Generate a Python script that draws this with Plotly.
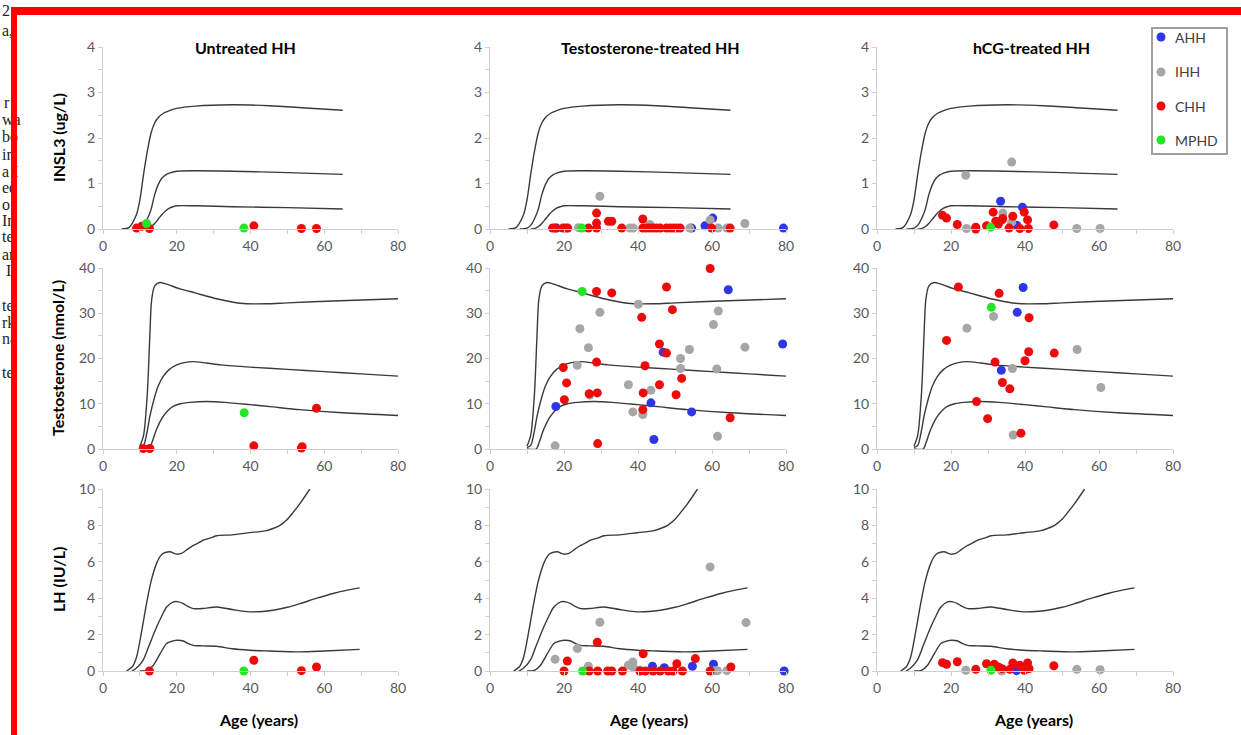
import plotly.graph_objects as go

W, H = 1241, 735

# ---------------- text / categories ----------------
PANEL_TITLES = ["Untreated HH", "Testosterone-treated HH", "hCG-treated HH"]
ROW_TITLES = ["INSL3 (ug/L)", "Testosterone (nmol/L)", "LH (IU/L)"]
X_TITLE = "Age (years)"
GROUPS = ["AHH", "IHH", "CHH", "MPHD"]
GROUP_COLORS = ["#2f36e6", "#a6a6a6", "#ee0a0a", "#22e622"]
AGE_TICKS = [0, 20, 40, 60, 80]
INSL3_TICKS = [0, 1, 2, 3, 4]
T_TICKS = [0, 10, 20, 30, 40]
LH_TICKS = [0, 2, 4, 6, 8, 10]

# ---------------- reference centile curves (age, value) ----------------
INSL3_AGE_HI = [5, 7, 9, 10, 11, 12, 13, 14, 15, 16.5, 18, 20, 25, 35, 45, 55, 65]
INSL3_HI = [0, 0.03, 0.3, 0.64, 1.2, 1.7, 2.1, 2.33, 2.45, 2.55, 2.6, 2.65, 2.7, 2.73, 2.71, 2.66, 2.61]
INSL3_AGE_MID = [8, 10, 11, 12, 13, 14, 15, 16, 17, 18, 20, 25, 35, 50, 65]
INSL3_MID = [0, 0.02, 0.08, 0.22, 0.42, 0.75, 0.98, 1.12, 1.19, 1.23, 1.27, 1.28, 1.27, 1.24, 1.2]
INSL3_AGE_LO = [11, 12, 13, 14, 15, 16, 17, 18, 19, 20, 25, 35, 50, 65]
INSL3_LO = [0, 0.01, 0.05, 0.12, 0.22, 0.32, 0.4, 0.46, 0.49, 0.51, 0.51, 0.49, 0.47, 0.44]

T_AGE_HI = [10, 11, 12, 12.7, 13.2, 14, 15.4, 17, 20.9, 25, 30.8, 35, 38.9, 44.3, 50, 62.4, 80]
T_HI = [0.6, 3, 12, 25, 33, 36, 36.8, 36.5, 35.4, 34.5, 33.2, 32.5, 32.1, 32.1, 32.3, 32.7, 33.2]
T_AGE_MID = [10, 11, 12, 12.7, 14, 15, 16.3, 18, 20, 22, 24.5, 28, 32, 39.8, 50, 60, 70, 80]
T_MID = [0.3, 0.8, 4.0, 7.2, 11.5, 14, 16, 17.6, 18.6, 19.1, 19.3, 19.0, 18.6, 18.1, 17.6, 17.1, 16.6, 16.1]
T_AGE_LO = [10, 12.5, 13.3, 14.5, 16, 17.5, 19, 21, 23.6, 28, 33, 39.8, 46, 53.4, 65, 80]
T_LO = [0, 0, 1.5, 4.3, 6.8, 8.4, 9.4, 10.0, 10.3, 10.5, 10.3, 9.8, 9.3, 8.7, 8.0, 7.4]

LH_AGE_HI = [6.4, 8, 9.1, 10.5, 11.8, 13, 14.5, 15.5, 16.3, 18.1, 20, 21.3, 23, 24.5, 26, 27.2, 29,
             30.8, 35, 39.8, 44, 46.1, 48, 49.8, 51.5, 53.4, 56.1]
LH_HI = [0, 0.25, 0.77, 2.2, 3.7, 4.9, 5.9, 6.3, 6.46, 6.55, 6.42, 6.46, 6.7, 6.9, 7.05, 7.19, 7.3,
         7.43, 7.48, 7.6, 7.7, 7.83, 8.0, 8.29, 8.7, 9.2, 10]
LH_AGE_MID = [7.8, 9, 10.9, 12.5, 14.5, 16, 17.2, 19.1, 20.5, 21.8, 23, 24.5, 27, 30.8, 35, 39.8,
              46.1, 50, 53.4, 58, 62.4, 66, 69.6]
LH_MID = [0, 0.15, 0.6, 1.4, 2.4, 3.05, 3.5, 3.8, 3.8, 3.7, 3.55, 3.43, 3.43, 3.52, 3.38, 3.25,
          3.34, 3.5, 3.7, 4.0, 4.26, 4.43, 4.57]
LH_AGE_LO = [10, 12, 13.6, 15.5, 17.2, 18.5, 20, 21.8, 23, 24.5, 27, 30.8, 35, 39.8, 45, 53.4, 60, 69.6]
LH_LO = [0, 0.03, 0.3, 0.95, 1.5, 1.62, 1.69, 1.65, 1.52, 1.41, 1.38, 1.36, 1.22, 1.14, 1.1, 1.05, 1.1, 1.19]

# ---------------- patient data (age, value) ----------------
# Untreated HH
UT_INSL3_AHH = []
UT_INSL3_IHH = []
UT_INSL3_CHH = [(9.1, 0.02), (10.5, 0.06), (12.6, 0.01), (40.9, 0.07), (53.8, 0.01), (57.9, 0.01)]
UT_INSL3_MPHD = [(11.8, 0.12), (38.2, 0.02)]
UT_T_AHH = []
UT_T_IHH = []
UT_T_CHH = [(10.9, 0.1), (12.7, 0.1), (40.9, 0.7), (53.8, 0.2), (54.0, 0.5), (57.9, 9.0)]
UT_T_MPHD = [(38.3, 8.0)]
UT_LH_AHH = []
UT_LH_IHH = []
UT_LH_CHH = [(12.6, 0.0), (40.9, 0.59), (53.8, 0.02), (57.9, 0.22)]
UT_LH_MPHD = [(38.2, 0.0)]

# Testosterone-treated HH
TT_INSL3_AHH = [(18.0, 0.02), (54.5, 0.02), (58.1, 0.07), (60.2, 0.24), (79.3, 0.02)]
TT_INSL3_IHH = [(29.7, 0.72), (23.9, 0.03), (37.8, 0.02), (38.7, 0.02), (43.2, 0.1), (54.0, 0.02),
                (59.5, 0.2), (61.7, 0.02), (64.0, 0.02), (68.9, 0.12)]
TT_INSL3_CHH = [(16.9, 0.02), (17.6, 0.02), (19.7, 0.02), (20.4, 0.02), (21.0, 0.02), (26.6, 0.02),
                (28.8, 0.02), (28.8, 0.13), (28.8, 0.35), (32.0, 0.17), (32.9, 0.17), (35.6, 0.02),
                (41.3, 0.22), (41.3, 0.02), (42.2, 0.02), (43.2, 0.02), (44.1, 0.02), (45.0, 0.02),
                (46.0, 0.02), (47.7, 0.02), (48.6, 0.02), (49.5, 0.02), (50.5, 0.02), (51.4, 0.02),
                (59.9, 0.02), (64.9, 0.02)]
TT_INSL3_MPHD = [(24.8, 0.02)]
TT_T_AHH = [(64.4, 35.2), (79.1, 23.2), (46.8, 21.4), (17.8, 9.4), (43.5, 10.2), (54.5, 8.2), (44.3, 2.1)]
TT_T_IHH = [(40.1, 32.0), (29.7, 30.2), (61.7, 30.5), (24.3, 26.6), (60.4, 27.5), (26.6, 22.4),
            (68.9, 22.5), (53.9, 22.0), (51.5, 20.0), (23.6, 18.5), (51.5, 17.8), (61.3, 17.7),
            (37.4, 14.2), (43.5, 13.0), (27.0, 11.9), (38.6, 8.2), (41.3, 7.6), (17.6, 0.7), (61.5, 2.8)]
TT_T_CHH = [(59.5, 39.9), (47.7, 35.8), (28.8, 34.8), (32.9, 34.5), (49.3, 30.8), (41.0, 29.1),
            (45.8, 23.2), (47.7, 21.2), (28.8, 19.2), (19.8, 18.0), (41.9, 18.4), (51.8, 15.6),
            (20.7, 14.6), (45.8, 14.2), (26.8, 12.2), (29.0, 12.4), (41.4, 12.4), (50.3, 12.0),
            (20.1, 10.9), (41.3, 8.7), (64.9, 6.9), (29.1, 1.2)]
TT_T_MPHD = [(24.9, 34.8)]
TT_LH_AHH = [(43.9, 0.26), (47.1, 0.18), (54.7, 0.26), (60.4, 0.37), (79.5, 0.0)]
TT_LH_IHH = [(59.5, 5.72), (29.7, 2.68), (69.2, 2.66), (23.6, 1.23), (17.6, 0.64), (26.6, 0.26),
             (37.4, 0.31), (38.6, 0.5), (38.7, 0.22), (40.5, 0.04), (60.8, 0.02), (61.5, 0.02), (64.0, 0.02)]
TT_LH_CHH = [(29.0, 1.58), (41.4, 0.95), (55.5, 0.68), (20.9, 0.55), (50.5, 0.4), (65.1, 0.22),
             (20.0, 0.0), (26.8, 0.0), (29.1, 0.0), (31.8, 0.0), (32.9, 0.0), (35.8, 0.0), (40.5, 0.0),
             (42.0, 0.0), (44.1, 0.0), (46.0, 0.0), (48.2, 0.0), (49.5, 0.0), (52.0, 0.0), (59.5, 0.0)]
TT_LH_MPHD = [(25.0, 0.0)]

# hCG-treated HH
HC_INSL3_AHH = [(33.4, 0.61), (39.3, 0.48), (37.8, 0.08)]
HC_INSL3_IHH = [(36.4, 1.47), (24.0, 1.18), (34.0, 0.35), (36.4, 0.15), (24.2, 0.01), (54.0, 0.01), (60.3, 0.01)]
HC_INSL3_CHH = [(17.7, 0.3), (18.8, 0.24), (21.7, 0.1), (26.7, 0.04), (26.7, 0.0), (29.6, 0.07),
                (31.4, 0.37), (32.1, 0.17), (32.8, 0.11), (33.8, 0.2), (34.0, 0.23), (35.7, 0.02),
                (36.7, 0.28), (38.6, 0.01), (39.8, 0.37), (40.7, 0.2), (40.9, 0.01), (47.8, 0.09)]
HC_INSL3_MPHD = [(30.7, 0.04)]
HC_T_AHH = [(39.5, 35.7), (37.9, 30.2), (33.6, 17.4)]
HC_T_IHH = [(31.5, 29.3), (24.3, 26.7), (54.1, 22.0), (36.6, 17.8), (60.5, 13.6), (36.8, 3.1)]
HC_T_CHH = [(22.0, 35.8), (33.0, 34.4), (41.1, 29.0), (18.8, 24.0), (41.0, 21.5), (47.9, 21.2),
            (40.0, 19.5), (31.9, 19.2), (33.9, 14.7), (35.9, 13.3), (26.9, 10.5), (29.9, 6.7), (38.9, 3.5)]
HC_T_MPHD = [(30.9, 31.3)]
HC_LH_AHH = [(37.7, 0.02)]
HC_LH_IHH = [(24.0, 0.04), (33.7, 0.0), (54.0, 0.09), (60.3, 0.07)]
HC_LH_CHH = [(17.7, 0.46), (18.8, 0.37), (21.7, 0.51), (26.7, 0.09), (29.6, 0.4), (31.7, 0.37),
             (32.8, 0.22), (33.8, 0.13), (36.7, 0.44), (35.9, 0.09), (38.6, 0.31), (39.8, 0.04),
             (40.7, 0.44), (41.1, 0.13), (47.8, 0.29)]
HC_LH_MPHD = [(30.8, 0.04)]

# ---------------- assemble ----------------
ROWS = [
    dict(curves=[(INSL3_AGE_HI, INSL3_HI), (INSL3_AGE_MID, INSL3_MID), (INSL3_AGE_LO, INSL3_LO)],
         yrange=[0, 4], ticks=INSL3_TICKS, minor=0.5,
         data=[[UT_INSL3_AHH, UT_INSL3_IHH, UT_INSL3_CHH, UT_INSL3_MPHD],
               [TT_INSL3_AHH, TT_INSL3_IHH, TT_INSL3_CHH, TT_INSL3_MPHD],
               [HC_INSL3_AHH, HC_INSL3_IHH, HC_INSL3_CHH, HC_INSL3_MPHD]]),
    dict(curves=[(T_AGE_HI, T_HI), (T_AGE_MID, T_MID), (T_AGE_LO, T_LO)],
         yrange=[0, 40], ticks=T_TICKS, minor=5,
         data=[[UT_T_AHH, UT_T_IHH, UT_T_CHH, UT_T_MPHD],
               [TT_T_AHH, TT_T_IHH, TT_T_CHH, TT_T_MPHD],
               [HC_T_AHH, HC_T_IHH, HC_T_CHH, HC_T_MPHD]]),
    dict(curves=[(LH_AGE_HI, LH_HI), (LH_AGE_MID, LH_MID), (LH_AGE_LO, LH_LO)],
         yrange=[0, 10], ticks=LH_TICKS, minor=1,
         data=[[UT_LH_AHH, UT_LH_IHH, UT_LH_CHH, UT_LH_MPHD],
               [TT_LH_AHH, TT_LH_IHH, TT_LH_CHH, TT_LH_MPHD],
               [HC_LH_AHH, HC_LH_IHH, HC_LH_CHH, HC_LH_MPHD]]),
]

COL_PX = [(103, 398), (490, 786), (877, 1173)]
ROW_PX = [(47, 229), (268, 449), (489, 671)]


def px(x):
    return x / W


def py(y):
    return 1 - y / H


FONT = "Lato, 'Open Sans', sans-serif"
AXIS_COLOR = "#cfcfcf"
TICK_FONT = dict(family=FONT, size=14, color="#595959")

fig = go.Figure()
layout = dict(width=W, height=H, margin=dict(l=0, r=0, t=0, b=0, pad=0, autoexpand=False),
              paper_bgcolor="white", plot_bgcolor="white", showlegend=False, template="none")

for r, row in enumerate(ROWS):
    for c in range(3):
        k = r * 3 + c + 1
        xa = "x" if k == 1 else f"x{k}"
        ya = "y" if k == 1 else f"y{k}"
        xkey = "xaxis" if k == 1 else f"xaxis{k}"
        ykey = "yaxis" if k == 1 else f"yaxis{k}"
        x0, x1 = COL_PX[c]
        yt, yb = ROW_PX[r]
        layout[xkey] = dict(domain=[px(x0), px(x1)], anchor=ya, range=[0, 80], automargin=False,
                            tickvals=AGE_TICKS, showline=True, linecolor=AXIS_COLOR, linewidth=1,
                            ticks="outside", ticklen=4, tickcolor=AXIS_COLOR, showgrid=False,
                            zeroline=False, tickfont=TICK_FONT,
                            minor=dict(dtick=10, ticks="outside", ticklen=4, tickcolor=AXIS_COLOR,
                                       showgrid=False))
        layout[ykey] = dict(domain=[py(yb), py(yt)], anchor=xa, range=row["yrange"], automargin=False,
                            tickvals=row["ticks"], showline=True, linecolor=AXIS_COLOR, linewidth=1,
                            ticks="outside", ticklen=4, tickcolor=AXIS_COLOR, showgrid=False,
                            zeroline=False, tickfont=TICK_FONT,
                            minor=dict(dtick=row["minor"], ticks="outside", ticklen=4,
                                       tickcolor=AXIS_COLOR, showgrid=False))
        for ages, vals in row["curves"]:
            fig.add_trace(go.Scatter(x=ages, y=vals, mode="lines", xaxis=xa, yaxis=ya,
                                     line=dict(color="#3a3a3a", width=1.4, shape="spline",
                                               smoothing=0.8),
                                     hoverinfo="skip", cliponaxis=False))
        for g, pts in enumerate(row["data"][c]):
            if not pts:
                continue
            fig.add_trace(go.Scatter(x=[p[0] for p in pts], y=[p[1] for p in pts], mode="markers",
                                     xaxis=xa, yaxis=ya, name=GROUPS[g], cliponaxis=False,
                                     marker=dict(color=GROUP_COLORS[g], size=9, line=dict(width=0))))

annotations = []
shapes = []
TITLE_X = [246, 650, 1031]
for c, t in enumerate(PANEL_TITLES):
    annotations.append(dict(text=f"<b>{t}</b>", x=px(TITLE_X[c]), y=py(47), xref="paper", yref="paper",
                            showarrow=False, xanchor="center", yanchor="middle",
                            font=dict(family=FONT, size=16, color="black")))
ROW_TITLE_Y = [138, 358, 580]
for r, t in enumerate(ROW_TITLES):
    annotations.append(dict(text=f"<b>{t}</b>", x=px(58), y=py(ROW_TITLE_Y[r]), xref="paper",
                            yref="paper", showarrow=False, textangle=-90, xanchor="center",
                            yanchor="middle", font=dict(family=FONT, size=16, color="black")))
XT_X = [258, 648, 1033]
for c in range(3):
    annotations.append(dict(text=f"<b>{X_TITLE}</b>", x=px(XT_X[c]), y=py(719), xref="paper",
                            yref="paper", showarrow=False, xanchor="center", yanchor="middle",
                            font=dict(family=FONT, size=16, color="black")))

# legend (manual)
LEG_Y = [37, 72, 106, 140]
shapes.append(dict(type="rect", xref="paper", yref="paper", x0=px(1152), x1=px(1227), y0=py(154),
                   y1=py(28), line=dict(color="#a0a0a0", width=2), fillcolor="white", layer="above"))
for g, name in enumerate(GROUPS):
    shapes.append(dict(type="circle", xref="paper", yref="paper", xsizemode="pixel",
                       ysizemode="pixel", xanchor=px(1161), yanchor=py(LEG_Y[g]), x0=-4.5, x1=4.5,
                       y0=-4.5, y1=4.5, fillcolor=GROUP_COLORS[g], line=dict(width=0), layer="above"))
    annotations.append(dict(text=name, x=px(1173), y=py(LEG_Y[g]), xref="paper", yref="paper",
                            showarrow=False, xanchor="left", yanchor="middle",
                            font=dict(family=FONT, size=14, color="#404040")))

# fragments of the page behind the figure (cut by the red frame)
FRAGMENTS = [("2", 0, 11), ("a,", 0, 30), ("r", 2, 103), ("wa", 0, 120), ("bo", 0, 137), ("in", 0, 154),
             ("a I", 0, 171), ("ed", 0, 187), ("o", 0, 204), ("In", 0, 221), ("te", 0, 237),
             ("an", 0, 254), ("I", 4, 270), ("te", 0, 305), ("rk", 0, 322), ("na", 0, 338), ("te", 0, 372)]
for txt, xx, yy in FRAGMENTS:
    annotations.append(dict(text=txt, x=px(xx), y=py(yy), xref="paper", yref="paper", showarrow=False,
                            xanchor="left", yanchor="middle",
                            font=dict(family="'Liberation Serif', serif", size=16, color="#222222")))

# red frame: left bar drawn as a box annotation so it sits above the page fragments
annotations.append(dict(text=" ", x=px(11), y=0, xref="paper", yref="paper", showarrow=False,
                        xanchor="left", yanchor="bottom", width=6, height=H - 7, bgcolor="#ff0000",
                        borderpad=0, borderwidth=0, font=dict(size=1)))
shapes.append(dict(type="rect", xref="paper", yref="paper", x0=px(11), x1=1, y0=py(15), y1=py(7),
                   fillcolor="#ff0000", line=dict(width=0), layer="above"))

layout["annotations"] = annotations
layout["shapes"] = shapes
fig.update_layout(**layout)
fig.write_html("out.html")
